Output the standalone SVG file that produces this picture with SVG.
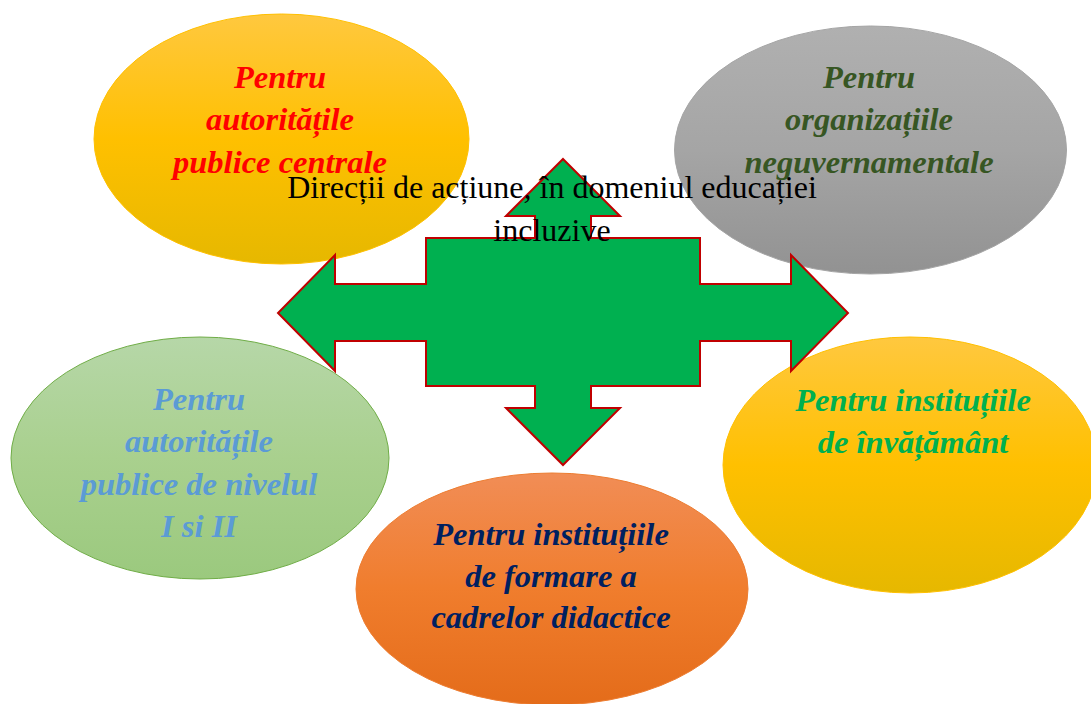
<svg xmlns="http://www.w3.org/2000/svg" width="1091" height="704" viewBox="0 0 1091 704">
<defs>
<linearGradient id="gold" x1="0" y1="0" x2="0" y2="1">
<stop offset="0" stop-color="#FFC83F"/><stop offset="0.5" stop-color="#FFC000"/><stop offset="1" stop-color="#E6B800"/>
</linearGradient>
<linearGradient id="gray" x1="0" y1="0" x2="0" y2="1">
<stop offset="0" stop-color="#B0B0B0"/><stop offset="0.5" stop-color="#A5A5A5"/><stop offset="1" stop-color="#929292"/>
</linearGradient>
<linearGradient id="green" x1="0" y1="0" x2="0" y2="1">
<stop offset="0" stop-color="#B6D7A8"/><stop offset="0.5" stop-color="#A9D08E"/><stop offset="1" stop-color="#9BC97E"/>
</linearGradient>
<linearGradient id="orange" x1="0" y1="0" x2="0" y2="1">
<stop offset="0" stop-color="#F18D56"/><stop offset="0.5" stop-color="#F07D2D"/><stop offset="1" stop-color="#E46C1A"/>
</linearGradient>
</defs>
<style>
.lbl{font-family:"Liberation Serif","Times New Roman",serif;font-weight:bold;font-style:italic;font-size:32.5px;text-anchor:middle}
.title{font-family:"Liberation Serif","Times New Roman",serif;font-size:32px;text-anchor:middle;fill:#000}
</style>
<rect width="1091" height="704" fill="#fff"/>
<g id="node-central">
<ellipse cx="281.5" cy="139" rx="187.5" ry="125" fill="url(#gold)" stroke="#FFC000" stroke-width="1"/>
<text class="lbl" fill="#FF0000"><tspan x="280" y="88">Pentru</tspan><tspan x="280" y="130">autoritățile</tspan><tspan x="280" y="173">publice centrale</tspan></text>
</g>
<g id="node-ong">
<ellipse cx="870.5" cy="150" rx="196" ry="124" fill="url(#gray)" stroke="#A5A5A5" stroke-width="1"/>
<text class="lbl" fill="#375623"><tspan x="869" y="88">Pentru</tspan><tspan x="869" y="130">organizațiile</tspan><tspan x="869" y="173">neguvernamentale</tspan></text>
</g>
<g id="node-local">
<ellipse cx="200" cy="458" rx="189" ry="121" fill="url(#green)" stroke="#70AD47" stroke-width="1"/>
<text class="lbl" fill="#5B9BD5"><tspan x="199" y="410">Pentru</tspan><tspan x="199" y="452">autoritățile</tspan><tspan x="199" y="495">publice de nivelul</tspan><tspan x="199" y="537">I si II</tspan></text>
</g>
<g id="node-formare">
<ellipse cx="552" cy="589" rx="196" ry="116" fill="url(#orange)" stroke="#ED7D31" stroke-width="1"/>
<text class="lbl" fill="#002060"><tspan x="551" y="545">Pentru instituțiile</tspan><tspan x="551" y="587">de formare a</tspan><tspan x="551" y="628">cadrelor didactice</tspan></text>
</g>
<g id="node-invatamant">
<ellipse cx="910" cy="465" rx="187" ry="128" fill="url(#gold)" stroke="#FFC000" stroke-width="1"/>
<text class="lbl" fill="#00B050"><tspan x="913" y="411">Pentru instituțiile</tspan><tspan x="913" y="453">de învățământ</tspan></text>
</g>
<g id="node-arrow">
<path d="M563,159 L620,216 L591,216 L591,238 L700,238 L700,284 L791,284 L791,255 L848,313 L791,371 L791,341 L700,341 L700,386 L591,386 L591,408 L620,408 L563,465 L506,408 L535,408 L535,386 L426,386 L426,341 L335,341 L335,371 L278,313 L335,255 L335,284 L426,284 L426,238 L535,238 L535,216 L506,216 Z" fill="#00B050" stroke="#C00000" stroke-width="2" stroke-linejoin="miter"/>
</g>
<g id="node-title">
<text class="title"><tspan x="552" y="198">Direcții de acțiune, în domeniul educației</tspan><tspan x="552" y="241">incluzive</tspan></text>
</g>
</svg>
